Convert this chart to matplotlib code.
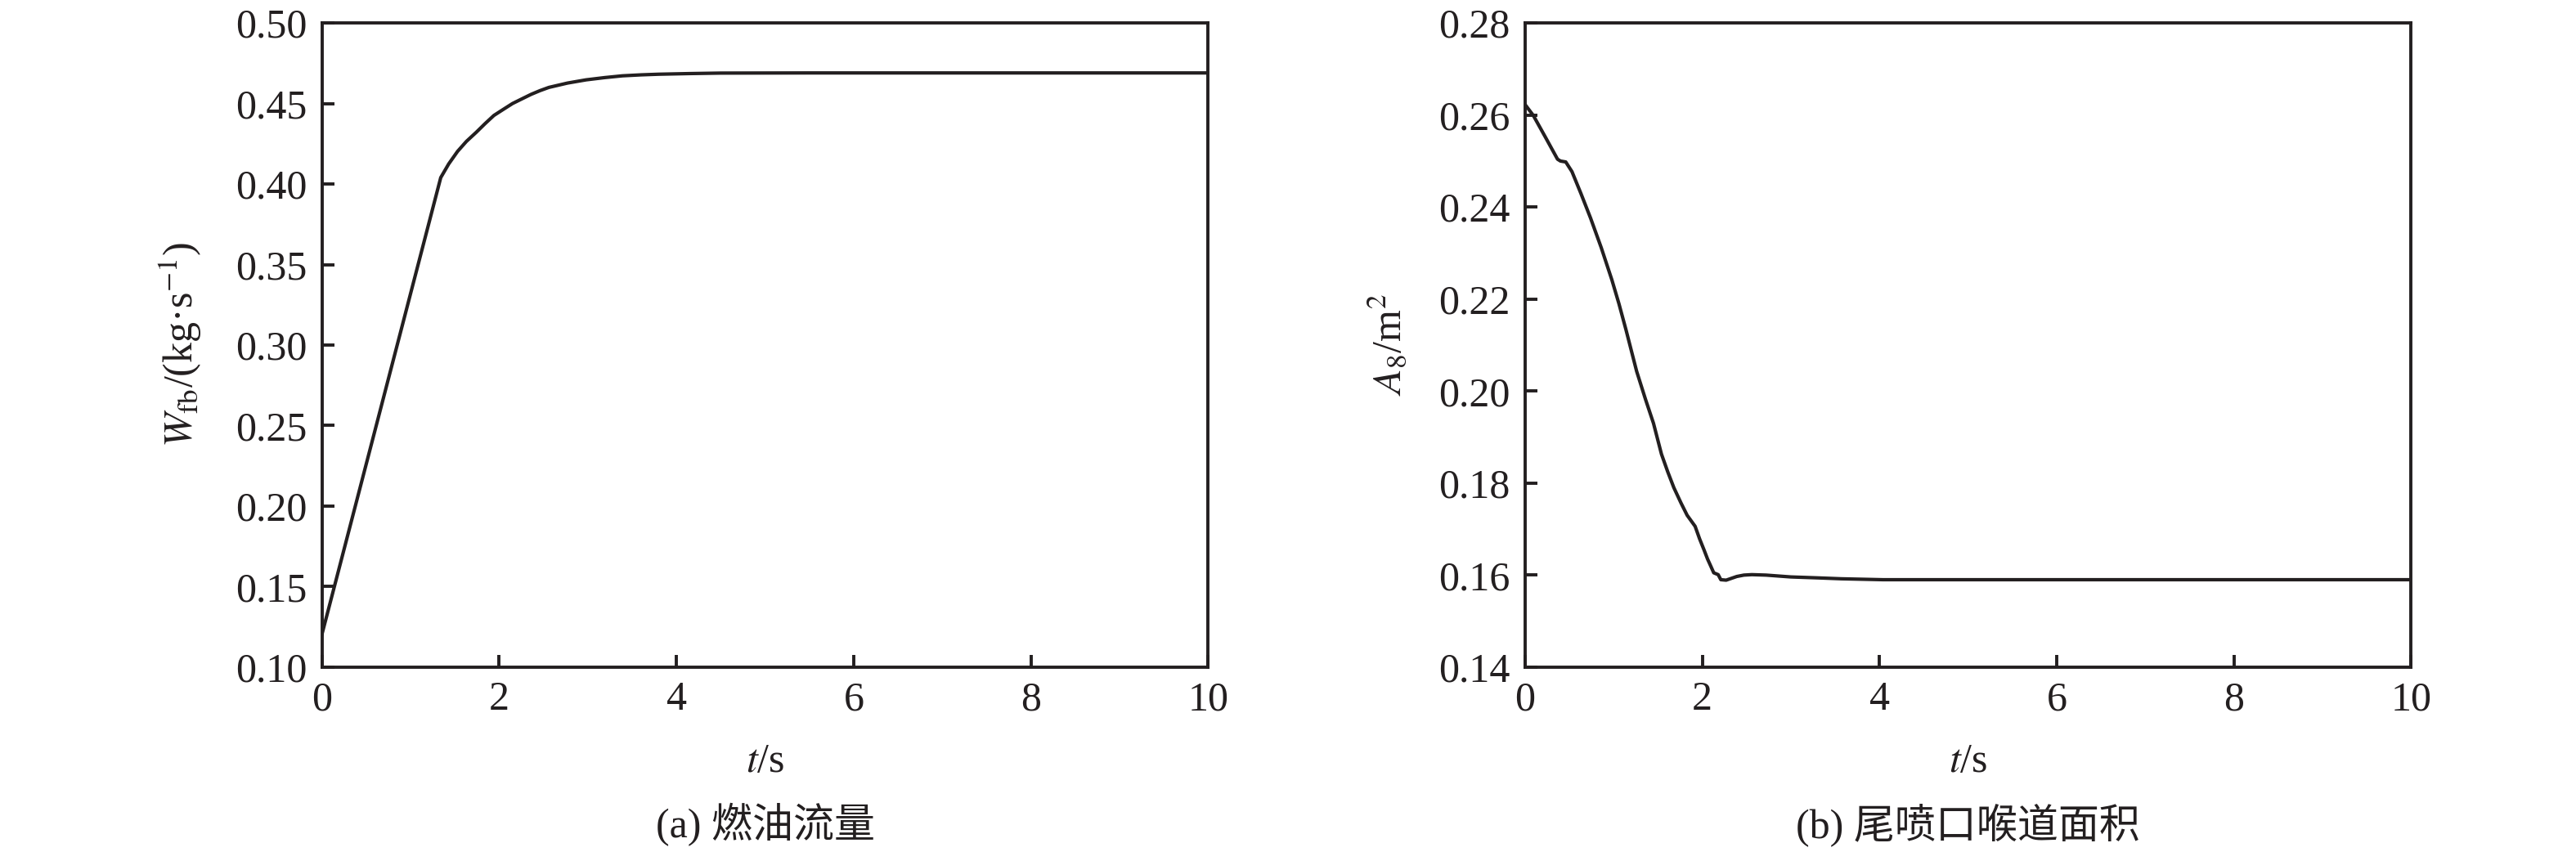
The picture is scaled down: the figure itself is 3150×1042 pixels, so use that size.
import numpy as np
import matplotlib
matplotlib.use("Agg")
import matplotlib.pyplot as plt

# ---- data ----
t_fuel = [0.0, 1.34, 1.43, 1.53, 1.63, 1.74, 1.84, 1.94, 2.05, 2.15, 2.26, 2.36, 2.46, 2.56,
          2.77, 2.98, 3.19, 3.39, 3.60, 3.80, 4.15, 4.5, 5.5, 7.0, 10.0]
w_fuel = [0.1205, 0.404, 0.4125, 0.4203, 0.4265, 0.4321, 0.4375, 0.4426, 0.4465, 0.4500,
          0.4530, 0.4557, 0.4580, 0.4600, 0.4627, 0.4647, 0.4661, 0.4672, 0.4678, 0.4682,
          0.4686, 0.4689, 0.4690, 0.4690, 0.4690]

t_a8 = [0.0, 0.094, 0.23, 0.367, 0.40, 0.46, 0.53, 0.63, 0.74, 0.86, 0.98, 1.06, 1.14, 1.26,
        1.36, 1.45, 1.54, 1.61, 1.68, 1.76, 1.83, 1.92, 1.97, 2.02, 2.06, 2.10, 2.13, 2.18,
        2.21, 2.27, 2.33, 2.39, 2.47, 2.56, 2.72, 3.0, 3.3, 3.57, 4.04, 5.0, 6.0, 8.0, 10.0]
a8 = [0.2623, 0.2599, 0.2552, 0.2504, 0.2500, 0.2498, 0.2477, 0.2430, 0.2376, 0.2312,
      0.2242, 0.2190, 0.2133, 0.2043, 0.1982, 0.1930, 0.1863, 0.1825, 0.1790, 0.1757,
      0.1730, 0.1706, 0.1679, 0.1655, 0.1635, 0.1618, 0.1605, 0.1601, 0.1590, 0.1589,
      0.1593, 0.1597, 0.1600, 0.1601, 0.1600, 0.1596, 0.1594, 0.1592, 0.1590, 0.1590,
      0.1590, 0.1590, 0.1590]

xticks = [0, 2, 4, 6, 8, 10]
yticks_a = [0.10, 0.15, 0.20, 0.25, 0.30, 0.35, 0.40, 0.45, 0.50]
yticks_b = [0.14, 0.16, 0.18, 0.20, 0.22, 0.24, 0.26, 0.28]

ylabel_a = r'$W_{\mathrm{fb}}$/(kg·s$^{-1}$)'
ylabel_b = r'$A_{\mathrm{8}}$/m$^{2}$'
xlabel = r'$t$/s'
caption_a = '(a) 燃油流量'
caption_b = '(b) 尾喷口喉道面积'

# ---- style ----
INK = '#231f20'
plt.rcParams['font.family'] = ['Liberation Serif', 'Noto Sans CJK SC']
plt.rcParams['mathtext.fontset'] = 'stix'
plt.rcParams['axes.unicode_minus'] = True

fig = plt.figure(figsize=(31.5, 10.42), dpi=100)
ax1 = fig.add_axes([0.125, 0.217, 0.344, 0.756])
ax2 = fig.add_axes([0.592, 0.217, 0.344, 0.756])

FS = 36

def style(ax, yticks, ylab, fmt):
    ax.set_xlim(0, 10)
    ax.set_ylim(yticks[0], yticks[-1])
    ax.set_xticks(xticks)
    ax.set_yticks(yticks)
    ax.set_xticklabels([str(v) for v in xticks])
    ax.set_yticklabels([fmt.format(v) for v in yticks])
    for s in ax.spines.values():
        s.set_linewidth(2.8)
        s.set_color(INK)
    ax.tick_params(direction='in', length=11, width=2.8, color=INK,
                   labelsize=FS, labelcolor=INK, top=False, right=False)
    ax.tick_params(axis='y', pad=13)
    ax.tick_params(axis='x', pad=12)
    ax.set_xlabel(xlabel, fontsize=FS, color=INK)
    ax.xaxis.set_label_coords(0.5, -0.147)
    ax.xaxis.label.set_va('center')
    ax.set_ylabel(ylab, fontsize=FS, color=INK)

ax1.plot(t_fuel, w_fuel, color=INK, lw=3.0)
ax2.plot(t_a8, a8, color=INK, lw=3.0)

style(ax1, yticks_a, ylabel_a, '{:.2f}')
style(ax2, yticks_b, ylabel_b, '{:.2f}')
ax1.yaxis.set_label_coords(-0.160, 0.5)
ax2.yaxis.set_label_coords(-0.153, 0.5)
ax1.yaxis.label.set_va('center')
ax2.yaxis.label.set_va('center')

fig.text(0.297, 0.032, caption_a, fontsize=36, color=INK, ha='center', va='center')
fig.text(0.764, 0.032, caption_b, fontsize=36, color=INK, ha='center', va='center')

fig.savefig('out.png', dpi=100, facecolor='white')
